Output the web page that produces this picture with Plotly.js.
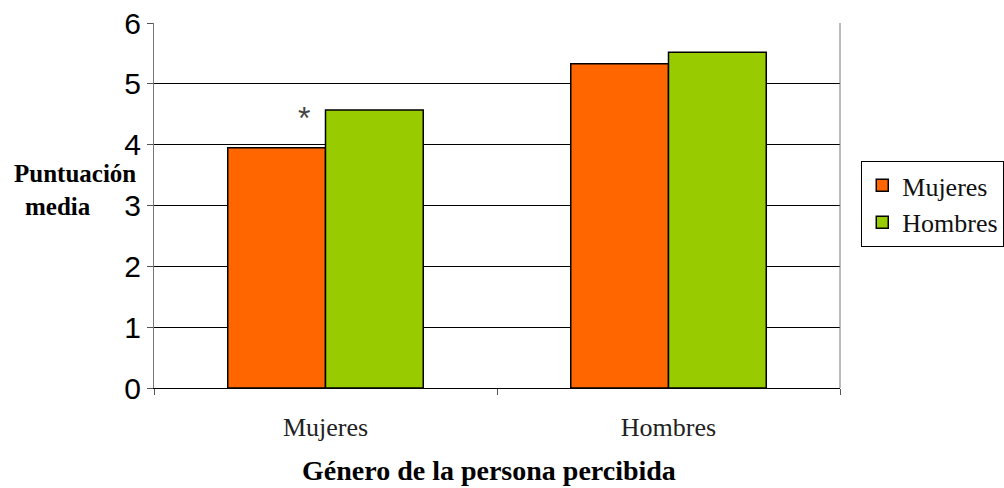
<!DOCTYPE html>
<html>
<head>
<meta charset="utf-8">
<script src="https://cdn.plot.ly/plotly-3.0.1.min.js"></script>
<style>html,body{margin:0;padding:0;background:#fff;}#chart{width:1004px;height:488px;}</style>
</head>
<body>
<div id="chart"></div>
<script>
// Mean score by gender of the perceived person, split by rater gender
const categories = ["Mujeres", "Hombres"];
const seriesNames = ["Mujeres", "Hombres"];
const mujeresValues = [3.95, 5.33];
const hombresValues = [4.57, 5.52];
const yTicks = [0, 1, 2, 3, 4, 5, 6];

const serif = "'Liberation Serif', 'DejaVu Serif', serif";
const sans = "'Liberation Sans', Arial, sans-serif";

const traces = [
  {
    type: "bar", name: seriesNames[0], x: categories, y: mujeresValues,
    marker: {color: "#FF6600", line: {color: "#000", width: 1.5}},
    hoverinfo: "none"
  },
  {
    type: "bar", name: seriesNames[1], x: categories, y: hombresValues,
    marker: {color: "#99CC00", line: {color: "#000", width: 1.5}},
    hoverinfo: "none"
  }
];

const layout = {
  width: 1004, height: 488,
  margin: {l: 154, r: 164, t: 23, b: 100, autoexpand: false},
  paper_bgcolor: "#fff", plot_bgcolor: "#fff",
  barmode: "group", bargap: 0.43, bargroupgap: 0,
  showlegend: true,
  legend: {
    x: 1.031, xanchor: "left", y: 0.622, yanchor: "top",
    font: {family: serif, size: 26, color: "#111"},
    bordercolor: "#000", borderwidth: 1, bgcolor: "#fff",
    traceorder: "normal", itemwidth: 30
  },
  xaxis: {
    type: "category",
    showline: true, linecolor: "#000", linewidth: 1, mirror: false,
    ticks: "outside", tickson: "boundaries", ticklen: 6, tickcolor: "#555",
    ticklabelstandoff: 16,
    tickfont: {family: serif, size: 26, color: "#222"},
    showgrid: false, zeroline: false, fixedrange: true
  },
  yaxis: {
    range: [0, 6], tickvals: yTicks, ticktext: yTicks.map(String),
    showline: true, linecolor: "#777", linewidth: 1,
    ticks: "outside", ticklen: 6, tickcolor: "#555",
    tickfont: {family: sans, size: 30, color: "#000"},
    showgrid: true, gridcolor: "#000", gridwidth: 1,
    zeroline: false, fixedrange: true
  },
  shapes: [
    {type: "line", xref: "paper", yref: "paper", x0: 1, x1: 1, y0: 0, y1: 1,
     line: {color: "#777", width: 1}}
  ],
  annotations: [
    {text: "<b>Puntuación</b>", xref: "paper", yref: "paper", x: -0.207, y: 0.588,
     xanchor: "left", yanchor: "middle", showarrow: false,
     font: {family: serif, size: 25, color: "#000"}},
    {text: "<b>media</b>", xref: "paper", yref: "paper", x: -0.14, y: 0.497,
     xanchor: "center", yanchor: "middle", showarrow: false,
     font: {family: serif, size: 25, color: "#000"}},
    {text: "*", xref: "x", yref: "y", x: categories[0], y: mujeresValues[0],
     xshift: -22, yshift: 30, showarrow: false,
     font: {family: sans, size: 32, color: "#444"}},
    {text: "<b>Género de la persona percibida</b>", xref: "paper", yref: "paper",
     x: 0.489, y: -0.225, xanchor: "center", yanchor: "middle", showarrow: false,
     font: {family: serif, size: 28, color: "#000"}}
  ]
};

Plotly.newPlot("chart", traces, layout, {displayModeBar: false, staticPlot: true});
</script>
</body>
</html>
